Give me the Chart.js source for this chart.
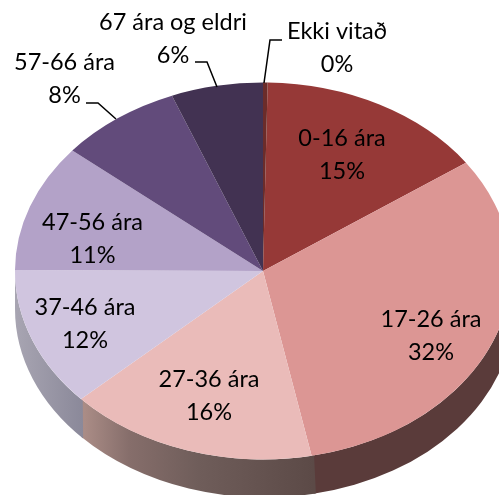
<!DOCTYPE html>
<html lang="en">
<head>
    <meta charset="UTF-8">
    <title>Aldursskipting</title>
    <script src="https://cdnjs.cloudflare.com/ajax/libs/Chart.js/4.4.1/chart.umd.min.js"></script>
    <style>
        body { margin: 0; background-color: white; }
        #wrap { width: 499px; height: 495px; overflow: hidden; }
    </style>
</head>
<body>
<div id="wrap"><canvas id="pieChart" width="499" height="495"></canvas></div>
<script>
    const categories = ['0-16 ára', '17-26 ára', '27-36 ára', '37-46 ára', '47-56 ára', '57-66 ára', '67 ára og eldri', 'Ekki vitað'];
    const percentLabels = ['15%', '32%', '16%', '12%', '11%', '8%', '6%', '0%'];
    const values = [15, 31.7, 16.3, 12, 11, 8, 6, 0.3];
    const sliceColors = ['#963937', '#dc9694', '#eabbb9', '#d0c5df', '#b3a2c8', '#624b7b', '#423252', '#6b2c2a'];

    // perspective of the tilted pie
    const TILT = 0.76;
    const DEPTH = 38;
    const WALL_SHIFT = 1.5;

    // label centres and leader lines, in page pixels
    const labelCentres = [[342, 155], [431, 336], [209, 395.5], [85, 323.5], [92.5, 239], [64.5, 79], [173, 39], [337, 48]];
    const leaders = [
        [[86, 103], [98, 103], [116, 119]],
        [[195, 62], [207, 62], [217, 87]],
        [[282, 40], [270, 40], [264, 83]]
    ];

    function wallFill(ctx, index, xc, r) {
        const g = ctx.createLinearGradient(xc - r, 0, xc + r, 0);
        if (index === 1) {
            g.addColorStop(0, '#5a3b3a');
            g.addColorStop(1, '#5a3b3a');
        } else if (index === 2) {
            g.addColorStop(0.14, '#aa8c86');
            g.addColorStop(0.23, '#866e6b');
            g.addColorStop(0.37, '#6f5d5a');
            g.addColorStop(0.6, '#5c4a47');
        } else {
            g.addColorStop(0, '#a8a5b2');
            g.addColorStop(0.14, '#8a8899');
        }
        return g;
    }

    const tiltPlugin = {
        id: 'tilt',
        beforeDatasetsDraw(chart) {
            const ctx = chart.ctx;
            const arcs = chart.getDatasetMeta(0).data;
            const xc = arcs[0].x, yc = arcs[0].y, r = arcs[0].outerRadius;
            // side wall, only the front half shows
            arcs.forEach((arc, i) => {
                const a0 = Math.max(arc.startAngle - 0.01, 0);
                const a1 = Math.min(arc.endAngle, Math.PI);
                if (a1 <= a0) return;
                ctx.beginPath();
                ctx.ellipse(xc, yc, r, r * TILT, 0, a0, a1);
                ctx.ellipse(xc + WALL_SHIFT, yc + DEPTH, r + WALL_SHIFT, r * TILT, 0, a1, a0, true);
                ctx.closePath();
                ctx.fillStyle = wallFill(ctx, i, xc, r);
                ctx.fill();
            });
            ctx.save();
            ctx.translate(xc, yc);
            ctx.scale(1, TILT);
            ctx.translate(-xc, -yc);
        },
        afterDatasetsDraw(chart) {
            chart.ctx.restore();
        },
        afterDraw(chart) {
            const ctx = chart.ctx;
            ctx.save();
            ctx.strokeStyle = '#000';
            ctx.lineWidth = 1.5;
            leaders.forEach(pts => {
                ctx.beginPath();
                pts.forEach((p, j) => j ? ctx.lineTo(p[0], p[1]) : ctx.moveTo(p[0], p[1]));
                ctx.stroke();
            });
            ctx.fillStyle = '#000';
            ctx.font = '23.5px Lato';
            ctx.textAlign = 'center';
            ctx.textBaseline = 'middle';
            categories.forEach((name, i) => {
                const [x, y] = labelCentres[i];
                ctx.fillText(name, x, y - 16.5);
                ctx.fillText(percentLabels[i], x, y + 16.5);
            });
            ctx.restore();
        }
    };

    // the sliver for Ekki vitað sits just right of twelve o'clock
    const total = values.reduce((a, b) => a + b, 0);
    const lastShare = values[values.length - 1] / total * 360;

    new Chart(document.getElementById('pieChart').getContext('2d'), {
        type: 'pie',
        data: {
            labels: categories,
            datasets: [{
                data: values,
                backgroundColor: sliceColors,
                borderWidth: 0
            }]
        },
        options: {
            responsive: false,
            animation: false,
            radius: 248,
            rotation: lastShare,
            layout: { padding: { left: 27, top: 47 } },
            plugins: { legend: { display: false }, tooltip: { enabled: false } }
        },
        plugins: [tiltPlugin]
    });
</script>
</body>
</html>
